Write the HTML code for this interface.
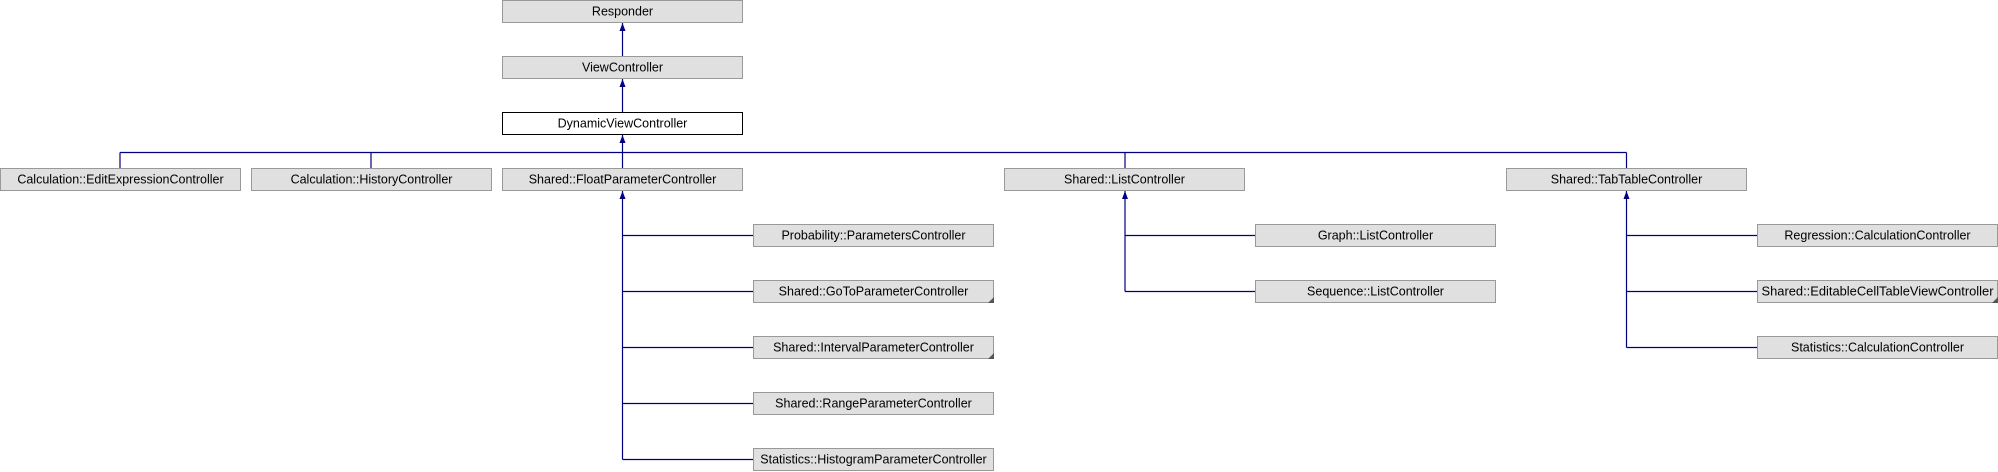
<!DOCTYPE html>
<html><head><meta charset="utf-8"><style>
html,body{margin:0;padding:0;background:#fff;}
svg{display:block}
text{font-family:"Liberation Sans",Arial,sans-serif;font-size:12.5px;fill:#000;text-anchor:middle;}
.b{fill:#e0e0e0;stroke:#999;stroke-width:1}
.l{stroke:#000080;stroke-width:1.2;fill:none}
.a{fill:#000080}
.c{fill:#555}
</style></head><body>
<svg width="1998" height="472" viewBox="0 0 1998 472" xmlns="http://www.w3.org/2000/svg">
<path class="l" d="M622.5 23 V56 M622.5 79 V112 M622.5 135 V152.5 M120 152.5 H1626.5 M120 152.5 V168 M371 152.5 V168 M622.5 152.5 V168 M1125 152.5 V168 M1626.5 152.5 V168"/>
<path class="l" d="M622.5 191 V459.5 M622.5 235.5 H753 M622.5 291.5 H753 M622.5 347.5 H753 M622.5 403.5 H753 M622.5 459.5 H753"/>
<path class="l" d="M1125 191 V291.5 M1125 235.5 H1255 M1125 291.5 H1255"/>
<path class="l" d="M1626.5 191 V347.5 M1626.5 235.5 H1757 M1626.5 291.5 H1757 M1626.5 347.5 H1757"/>
<path class="a" d="M622.5 23 l-3 8 h6z M622.5 79 l-3 8 h6z M622.5 135 l-3 8 h6z M622.5 191 l-3 8 h6z M1125 191 l-3 8 h6z M1626.5 191 l-3 8 h6z"/>
<rect class="b" x="502.5" y="0.5" width="240" height="22"/><text x="622.5" y="15.5">Responder</text>
<rect class="b" x="502.5" y="56.5" width="240" height="22"/><text x="622.5" y="71.5">ViewController</text>
<rect x="502.5" y="112.5" width="240" height="22" fill="#fff" stroke="#000"/><text x="622.5" y="127.5">DynamicViewController</text>

<rect class="b" x="0.5" y="168.5" width="240" height="22"/><text x="120.5" y="183.5">Calculation::EditExpressionController</text>
<rect class="b" x="251.5" y="168.5" width="240" height="22"/><text x="371.5" y="183.5">Calculation::HistoryController</text>
<rect class="b" x="502.5" y="168.5" width="240" height="22"/><text x="622.5" y="183.5">Shared::FloatParameterController</text>
<rect class="b" x="1004.5" y="168.5" width="240" height="22"/><text x="1124.5" y="183.5">Shared::ListController</text>
<rect class="b" x="1506.5" y="168.5" width="240" height="22"/><text x="1626.5" y="183.5">Shared::TabTableController</text>

<rect class="b" x="753.5" y="224.5" width="240" height="22"/><text x="873.5" y="239.5">Probability::ParametersController</text>
<rect class="b" x="753.5" y="280.5" width="240" height="22"/><text x="873.5" y="295.5">Shared::GoToParameterController</text>
<path class="c" d="M994 297 v6 h-6z"/>
<rect class="b" x="753.5" y="336.5" width="240" height="22"/><text x="873.5" y="351.5">Shared::IntervalParameterController</text>
<path class="c" d="M994 353 v6 h-6z"/>
<rect class="b" x="753.5" y="392.5" width="240" height="22"/><text x="873.5" y="407.5">Shared::RangeParameterController</text>
<rect class="b" x="753.5" y="448.5" width="240" height="22"/><text x="873.5" y="463.5">Statistics::HistogramParameterController</text>

<rect class="b" x="1255.5" y="224.5" width="240" height="22"/><text x="1375.5" y="239.5">Graph::ListController</text>
<rect class="b" x="1255.5" y="280.5" width="240" height="22"/><text x="1375.5" y="295.5">Sequence::ListController</text>

<rect class="b" x="1757.5" y="224.5" width="240" height="22"/><text x="1877.5" y="239.5">Regression::CalculationController</text>
<rect class="b" x="1757.5" y="280.5" width="240" height="22"/><text x="1877.5" y="295.5" textLength="232" lengthAdjust="spacingAndGlyphs">Shared::EditableCellTableViewController</text>
<path class="c" d="M1998 297 v6 h-6z"/>
<rect class="b" x="1757.5" y="336.5" width="240" height="22"/><text x="1877.5" y="351.5">Statistics::CalculationController</text>
</svg>
</body></html>
